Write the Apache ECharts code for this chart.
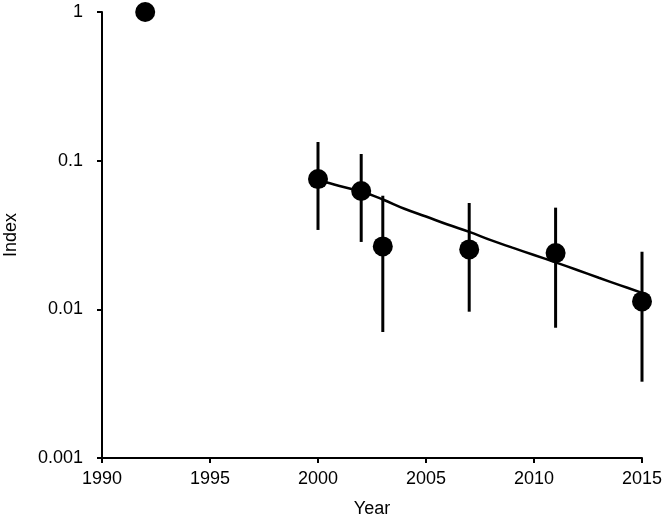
<!DOCTYPE html>
<html>
<head>
<meta charset="utf-8">
<script src="https://cdn.jsdelivr.net/npm/echarts@6/dist/echarts.min.js"></script>
<style>
html,body{margin:0;padding:0;background:#fff;}
#chart{width:664px;height:520px;}
</style>
</head>
<body>
<div id="chart"></div>
<script>
// Observed index values
var years = [1992, 2000, 2002, 2003, 2007, 2011, 2015];
var indexValues = [1.0, 0.0752, 0.0625, 0.0265, 0.0253, 0.0239, 0.0113];
var upperCI = [null, 0.1335, 0.1109, 0.0581, 0.0519, 0.0483, 0.0244];
var lowerCI = [null, 0.0342, 0.0284, 0.00704, 0.00964, 0.00752, 0.00326];

// Fitted trend line
var trendYears = [2000, 2001, 2002, 2003, 2004, 2005, 2006, 2007, 2008, 2009, 2010, 2011, 2012, 2013, 2014, 2015];
var trendValues = [0.0741, 0.0675, 0.0620, 0.0548, 0.0475, 0.0421, 0.0372, 0.0332, 0.0292, 0.0260, 0.0232, 0.0207, 0.0184, 0.0163, 0.0145, 0.0129];

// Tick labels
var yTickValues = [0.001, 0.01, 0.1, 1];
var yTickLabels = ['0.001', '0.01', '0.1', '1'];
var xTickLabels = ['1990', '1995', '2000', '2005', '2010', '2015'];

var pts = years.map(function (y, i) { return [y, indexValues[i]]; });
var errs = [];
years.forEach(function (y, i) {
  if (upperCI[i] != null) errs.push([y, lowerCI[i], upperCI[i]]);
});
var trend = trendYears.map(function (y, i) { return [y, trendValues[i]]; });

var txt = {color: '#000', fontFamily: 'Liberation Sans, Arial, sans-serif', fontSize: 18};

var chart = echarts.init(document.getElementById('chart'), null, {renderer: 'canvas'});
chart.setOption({
  animation: false,
  backgroundColor: '#fff',
  grid: {left: 102, right: 22, top: 12, bottom: 62, containLabel: false, outerBoundsMode: 'none'},
  xAxis: {
    type: 'value', min: 1990, max: 2015, interval: 5,
    name: 'Year', nameLocation: 'middle', nameGap: 42,
    nameTextStyle: txt,
    axisLine: {lineStyle: {color: '#000', width: 2}},
    axisTick: {show: true, inside: false, length: 5, lineStyle: {color: '#000', width: 2}},
    axisLabel: Object.assign({margin: 12, hideOverlap: false, formatter: function (v) {
      var i = Math.round((v - 1990) / 5);
      return xTickLabels[i] !== undefined ? xTickLabels[i] : '';
    }}, txt),
    splitLine: {show: false}
  },
  yAxis: {
    type: 'log', logBase: 10, min: 0.001, max: 1,
    name: 'Index', nameLocation: 'middle', nameGap: 82, nameRotate: 90,
    nameTextStyle: txt,
    axisLine: {show: true, lineStyle: {color: '#000', width: 2}},
    axisTick: {show: true, inside: false, length: 5, lineStyle: {color: '#000', width: 2}},
    axisLabel: Object.assign({margin: 19, formatter: function (v) {
      var best = 0, bd = Infinity;
      for (var i = 0; i < yTickValues.length; i++) {
        var d = Math.abs(Math.log10(v) - Math.log10(yTickValues[i]));
        if (d < bd) { bd = d; best = i; }
      }
      return bd < 0.01 ? yTickLabels[best] : '';
    }}, txt),
    splitLine: {show: false},
    minorTick: {show: false}
  },
  series: [
    {
      type: 'custom',
      data: errs,
      z: 2,
      renderItem: function (params, api) {
        var lo = api.coord([api.value(0), api.value(1)]);
        var hi = api.coord([api.value(0), api.value(2)]);
        return {
          type: 'line',
          shape: {x1: lo[0], y1: lo[1], x2: hi[0], y2: hi[1]},
          style: {stroke: '#000', lineWidth: 3}
        };
      }
    },
    {
      type: 'line',
      data: trend,
      smooth: 0.4,
      showSymbol: false,
      symbol: 'none',
      z: 3,
      lineStyle: {color: '#000', width: 2.5}
    },
    {
      type: 'scatter',
      data: pts,
      symbol: 'circle',
      symbolSize: 20,
      z: 4,
      itemStyle: {color: '#000', opacity: 1}
    }
  ]
});
</script>
</body>
</html>
